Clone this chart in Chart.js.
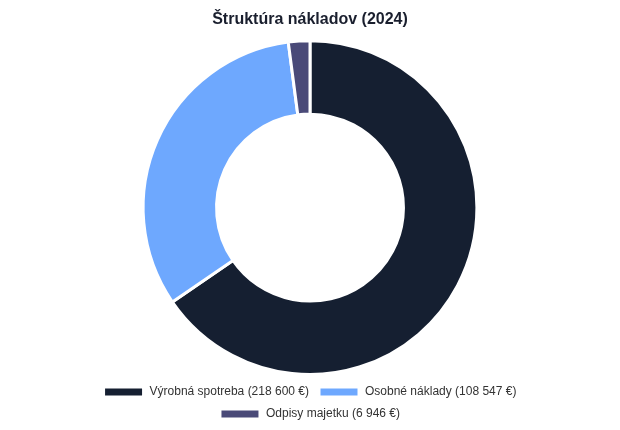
<!DOCTYPE html>
<html>
<head>
<meta charset="utf-8">
<script src="https://cdn.jsdelivr.net/npm/chart.js@4.4.1/dist/chart.umd.min.js"></script>
<style>
  html, body { margin: 0; padding: 0; background: #fff; }
  #wrap { width: 620px; height: 430px; }
</style>
</head>
<body>
<div id="wrap"><canvas id="costChart"></canvas></div>
<script>
const categories = ['Výrobná spotreba', 'Osobné náklady', 'Odpisy majetku'];
const amounts = [218600, 108547, 6946];
const sliceColors = ['#151f31', '#6ea8fe', '#4a4a78'];

const fmt = (n) => n.toString().replace(/\B(?=(\d{3})+(?!\d))/g, ' ');
const labels = categories.map((c, i) => `${c} (${fmt(amounts[i])} €)`);

Chart.defaults.font.family = '"Liberation Sans", Arial, sans-serif';

new Chart(document.getElementById('costChart'), {
  type: 'doughnut',
  data: {
    labels: labels,
    datasets: [{
      data: amounts,
      backgroundColor: sliceColors,
      borderColor: '#ffffff',
      borderWidth: 3,
    }]
  },
  options: {
    responsive: true,
    maintainAspectRatio: false,
    animation: false,
    cutout: '56%',
    plugins: {
      title: {
        display: true,
        text: 'Štruktúra nákladov (2024)',
        color: '#1a1f2e',
        font: { size: 16, weight: 'bold' },
      },
      legend: {
        position: 'bottom',
        labels: {
          color: '#333',
          font: { size: 12 },
          boxWidth: 40,
          boxHeight: 10,
        }
      },
      tooltip: { enabled: false }
    }
  }
});
</script>
</body>
</html>
